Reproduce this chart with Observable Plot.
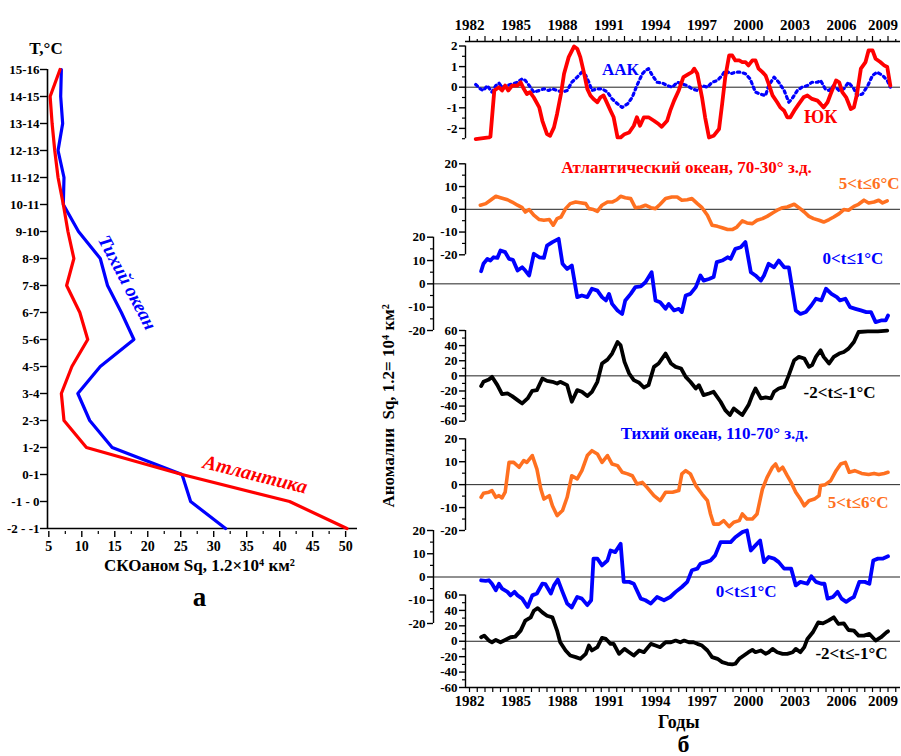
<!DOCTYPE html>
<html><head><meta charset="utf-8">
<script src="https://cdn.jsdelivr.net/npm/d3@7"></script>
<script src="https://cdn.jsdelivr.net/npm/@observablehq/plot@0.6"></script>
<style>
html,body{margin:0;padding:0;background:#fff;}
#root{position:relative;width:901px;height:756px;overflow:hidden;background:#fff;}
</style></head><body><div id="root"></div>
<script>
// ---------- Panel (a): standard deviation by temperature bins ----------
const tempBins = ["15-16","14-15","13-14","12-13","11-12","10-11","9-10","8-9","7-8","6-7","5-6","4-5","3-4","2-3","1-2","0-1","-1 - 0","-2 - -1"];
const atlanticSd = [6.7,5.2,5.5,5.9,6.4,7.2,7.9,8.8,7.7,9.7,10.9,8.5,6.9,7.3,10.7,25.2,41.5,50.2];
const pacificSd  = [6.9,6.8,7.1,6.4,7.3,7.2,9.5,12.8,13.9,16.0,17.9,12.8,9.4,11.2,14.6,25.2,26.5,31.8];
const sdTicks = [5,10,15,20,25,30,35,40,45,50];

// ---------- Panel (б): time series [year, value] ----------
const yearLabels = [1982,1985,1988,1991,1994,1997,2000,2003,2006,2009];

const yk = [[1982.4,-2.52],[1983.25,-2.44],[1983.35,-2.4],[1983.6,-0.16],[1983.9,0],[1984.1,-0.16],[1984.3,0.08],[1984.5,-0.16],[1984.75,0.08],[1985.1,0.08],[1985.3,0.24],[1985.5,-0.08],[1985.7,-0.33],[1985.9,-0.24],[1986.15,-0.5],[1986.5,-0.98],[1986.7,-1.63],[1987.0,-2.28],[1987.2,-2.36],[1987.45,-1.95],[1987.65,-1.3],[1987.9,-0.33],[1988.1,0.65],[1988.4,1.46],[1988.75,1.98],[1988.95,1.87],[1989.15,1.46],[1989.4,0.65],[1989.6,-0.08],[1989.8,-0.4],[1990.0,-0.57],[1990.25,-0.73],[1990.45,-0.49],[1990.65,-0.4],[1990.9,-0.81],[1991.1,-1.14],[1991.3,-1.46],[1991.55,-2.44],[1991.75,-2.44],[1992.0,-2.28],[1992.3,-2.2],[1992.6,-1.87],[1992.8,-1.46],[1993.0,-1.87],[1993.25,-1.46],[1993.55,-1.46],[1993.9,-1.63],[1994.2,-1.79],[1994.4,-1.92],[1994.75,-1.63],[1994.95,-1.14],[1995.2,-0.65],[1995.5,-0.16],[1995.8,0.49],[1996.15,0.65],[1996.35,0.73],[1996.5,0.9],[1996.7,0.65],[1997.0,-0.49],[1997.2,-1.46],[1997.45,-2.44],[1997.75,-2.36],[1998.1,-2.03],[1998.3,-0.81],[1998.5,0.49],[1998.75,1.54],[1998.95,1.54],[1999.15,1.3],[1999.4,1.3],[1999.6,1.22],[1999.8,1.22],[2000.0,1.06],[2000.25,1.3],[2000.45,1.3],[2000.65,0.9],[2000.9,0.73],[2001.1,0.57],[2001.3,0.16],[2001.55,-0.4],[2001.85,-0.73],[2002.05,-0.98],[2002.3,-1.14],[2002.5,-1.46],[2002.7,-1.46],[2002.95,-1.14],[2003.25,-0.81],[2003.55,-0.49],[2003.8,-0.4],[2004.1,-0.57],[2004.45,-0.65],[2004.65,-0.81],[2004.85,-0.98],[2005.1,-0.73],[2005.3,-0.33],[2005.65,0.33],[2005.85,0.24],[2006.05,-0.24],[2006.3,-0.49],[2006.6,-1.06],[2006.8,-0.98],[2007.0,-0.33],[2007.25,0.9],[2007.55,1.22],[2007.75,1.79],[2008.0,1.79],[2008.2,1.38],[2008.5,1.22],[2008.75,1.06],[2008.95,0.98],[2009.15,0.08]];

const aak = [[1982.4,0.13],[1982.7,-0.08],[1982.9,-0.16],[1983.15,0.08],[1983.45,-0.24],[1983.7,0.08],[1983.9,0.2],[1984.1,0],[1984.45,0.08],[1984.75,0.16],[1985.1,0.24],[1985.4,0.41],[1985.6,0.33],[1985.85,0.08],[1986.15,-0.24],[1986.5,-0.16],[1986.8,-0.08],[1987.1,-0.16],[1987.35,-0.08],[1987.65,-0.16],[1988.0,-0.24],[1988.3,-0.16],[1988.6,0.24],[1988.95,0.49],[1989.25,0.73],[1989.5,0.57],[1989.7,0.24],[1989.9,-0.16],[1990.25,-0.08],[1990.55,-0.08],[1990.9,-0.24],[1991.2,-0.57],[1991.55,-0.81],[1991.85,-0.98],[1992.2,-0.81],[1992.5,-0.49],[1992.8,0.08],[1993.15,0.65],[1993.35,0.81],[1993.55,0.9],[1993.8,0.57],[1994.1,0.24],[1994.45,0.2],[1994.75,0.08],[1995.1,0],[1995.4,0.24],[1995.7,0.16],[1996.05,0.08],[1996.35,-0.08],[1996.7,-0.16],[1997.0,0.08],[1997.35,0],[1997.65,0.24],[1998.0,0.33],[1998.3,0.57],[1998.5,0.81],[1998.85,0.65],[1999.15,0.73],[1999.5,0.73],[1999.8,0.65],[2000.1,0.41],[2000.45,-0.24],[2000.75,-0.33],[2001.1,-0.41],[2001.3,0.08],[2001.65,0.49],[2001.95,0.24],[2002.3,-0.16],[2002.6,-0.73],[2002.8,-0.57],[2003.15,-0.16],[2003.45,0],[2003.8,0.08],[2004.1,0.24],[2004.45,0.24],[2004.65,0.33],[2004.95,-0.08],[2005.2,-0.16],[2005.5,0.08],[2005.85,-0.16],[2006.15,-0.08],[2006.45,0.24],[2006.8,-0.08],[2007.0,-0.41],[2007.35,-0.33],[2007.7,0.08],[2008.0,0.57],[2008.3,0.73],[2008.65,0.57],[2008.95,0.33],[2009.15,0]];

const atl56 = [[1982.7,1.8],[1983.05,2.5],[1983.35,4.0],[1983.7,5.7],[1984.0,5.1],[1984.45,4.2],[1984.75,3.2],[1985.1,1.8],[1985.4,0.7],[1985.6,-1.2],[1985.85,-0.1],[1986.15,-2.6],[1986.5,-4.5],[1986.8,-4.8],[1987.15,-4.5],[1987.4,-7.0],[1987.65,-4.1],[1987.9,-3.4],[1988.2,0.3],[1988.5,2.5],[1988.85,3.2],[1989.15,2.9],[1989.5,2.5],[1989.7,0.3],[1990.0,-0.1],[1990.25,-0.9],[1990.55,1.8],[1990.9,3.2],[1991.2,3.2],[1991.5,4.2],[1991.75,5.7],[1992.05,5.1],[1992.4,4.7],[1992.7,0.7],[1993.05,1.0],[1993.35,1.8],[1993.7,0.7],[1994.0,0.3],[1994.3,2.2],[1994.65,4.7],[1995.05,5.4],[1995.4,5.4],[1995.7,4.0],[1996.05,4.2],[1996.35,4.7],[1996.7,2.5],[1997.0,0.7],[1997.35,-2.6],[1997.65,-7.0],[1998.0,-7.5],[1998.3,-8.1],[1998.65,-8.9],[1998.95,-8.9],[1999.25,-7.8],[1999.6,-5.1],[1999.9,-6.0],[2000.25,-6.3],[2000.55,-4.8],[2000.9,-4.1],[2001.2,-3.1],[2001.55,-1.6],[2001.85,-0.4],[2002.2,0.7],[2002.5,1.0],[2002.95,2.2],[2003.25,0.7],[2003.6,-1.2],[2003.9,-3.1],[2004.2,-4.1],[2004.55,-4.8],[2004.85,-5.6],[2005.2,-4.5],[2005.5,-3.4],[2005.85,-1.9],[2006.15,-0.1],[2006.45,-0.4],[2006.8,1.3],[2007.1,2.2],[2007.45,4.0],[2007.75,2.8],[2008.1,3.2],[2008.4,4.0],[2008.65,2.8],[2008.95,3.7]];

const atl01 = [[1982.75,5.4],[1982.9,8.6],[1983.15,10.7],[1983.35,10.0],[1983.55,11.4],[1983.8,11.1],[1984.0,14.3],[1984.3,13.6],[1984.55,10.7],[1984.8,10.3],[1985.1,5.7],[1985.4,7.1],[1985.6,5.7],[1985.85,3.6],[1986.15,12.9],[1986.5,11.4],[1986.8,11.1],[1987.0,16.4],[1987.35,17.9],[1987.75,19.3],[1988.0,8.6],[1988.3,6.4],[1988.6,7.9],[1988.95,-5.7],[1989.25,-5.0],[1989.6,-5.7],[1989.9,-2.1],[1990.25,-2.9],[1990.55,-5.7],[1990.8,-7.1],[1991.0,-4.3],[1991.2,-8.6],[1991.55,-11.4],[1991.85,-12.9],[1992.05,-7.1],[1992.4,-4.3],[1992.7,-1.4],[1993.05,-1.1],[1993.35,0.7],[1993.75,5.0],[1994.0,-7.1],[1994.3,-7.9],[1994.65,-10.7],[1994.85,-8.6],[1995.2,-11.4],[1995.5,-10.7],[1995.7,-12.1],[1995.95,-5.0],[1996.25,-4.3],[1996.6,-1.4],[1996.9,3.6],[1997.1,1.4],[1997.45,2.1],[1997.75,2.9],[1997.95,9.3],[1998.3,10.0],[1998.65,11.4],[1998.85,10.7],[1999.15,15.0],[1999.5,15.7],[1999.8,17.9],[2000.15,5.0],[2000.45,3.6],[2000.8,1.4],[2001.0,3.6],[2001.3,8.6],[2001.65,7.1],[2001.95,10.0],[2002.3,7.1],[2002.6,7.1],[2003.05,-11.4],[2003.35,-12.9],[2003.7,-12.1],[2004.05,-9.3],[2004.35,-6.4],[2004.7,-7.1],[2005.0,-2.1],[2005.35,-4.3],[2005.7,-5.7],[2005.9,-7.1],[2006.25,-6.4],[2006.55,-10.0],[2006.9,-10.7],[2007.25,-11.4],[2007.6,-12.1],[2007.9,-12.1],[2008.2,-16.4],[2008.55,-15.7],[2008.85,-15.7],[2009.0,-13.6]];

const atlM21 = [[1982.75,-13.6],[1982.9,-7.9],[1983.25,-4.8],[1983.45,-1.3],[1983.8,-12.3],[1984.1,-24.2],[1984.45,-23.3],[1984.75,-26.8],[1985.1,-32.1],[1985.4,-36.5],[1985.75,-29.9],[1986.05,-19.8],[1986.35,-18.9],[1986.7,-3.5],[1987.0,-6.6],[1987.35,-7.9],[1987.65,-10.1],[1987.85,-7.9],[1988.3,-12.3],[1988.6,-34.3],[1988.95,-18.9],[1989.25,-21.1],[1989.6,-26.8],[1989.9,-21.1],[1990.25,-7.9],[1990.55,16.3],[1990.9,21.5],[1991.2,29.5],[1991.55,44.8],[1991.75,40.4],[1992.0,18.5],[1992.3,3.1],[1992.6,-5.7],[1992.95,-9.2],[1993.25,-15.4],[1993.55,-12.3],[1993.9,11.9],[1994.2,16.3],[1994.65,29.5],[1995.0,16.3],[1995.3,11.9],[1995.65,9.7],[1995.95,-1.3],[1996.25,-7.9],[1996.6,-16.7],[1996.8,-12.3],[1997.1,-25.5],[1997.45,-23.3],[1997.75,-21.1],[1998.2,-34.3],[1998.5,-45.3],[1998.8,-51.9],[1999.05,-43.1],[1999.4,-48.8],[1999.6,-51.9],[2000.0,-38.7],[2000.25,-25.5],[2000.45,-16.7],[2000.8,-29.9],[2001.1,-28.6],[2001.45,-29.9],[2001.65,-21.1],[2001.95,-16.7],[2002.3,-14.5],[2002.6,0.9],[2002.95,20.7],[2003.25,25.1],[2003.6,22.9],[2003.9,11.9],[2004.1,14.1],[2004.35,25.1],[2004.65,33.8],[2004.85,25.1],[2005.2,16.3],[2005.5,25.1],[2005.85,29.5],[2006.15,31.6],[2006.45,36.0],[2006.8,44.8],[2007.1,58.0],[2007.7,58.9],[2008.35,58.9],[2008.95,59.8]];

const pac56 = [[1982.75,-5.5],[1982.9,-3.8],[1983.25,-3.3],[1983.45,-2.6],[1983.7,-5.5],[1983.9,-4.8],[1984.1,-5.8],[1984.3,-3.3],[1984.55,9.7],[1984.85,9.7],[1985.2,7.6],[1985.5,10.5],[1985.7,9.7],[1986.05,12.7],[1986.35,6.8],[1986.6,-1.9],[1986.8,-6.3],[1987.15,-4.8],[1987.35,-9.2],[1987.65,-13.5],[1988.0,-11.3],[1988.3,-5.5],[1988.6,3.9],[1988.95,2.5],[1989.25,6.1],[1989.6,12.7],[1989.9,14.8],[1990.25,13.4],[1990.55,9.7],[1990.9,12.7],[1991.2,9.0],[1991.55,8.3],[1991.85,5.4],[1992.2,4.7],[1992.5,3.9],[1992.8,0.3],[1993.15,1.0],[1993.45,-1.2],[1993.9,-4.8],[1994.3,-7.0],[1994.65,-3.3],[1995.1,-3.3],[1995.5,-2.6],[1995.7,4.7],[1995.95,6.1],[1996.25,4.7],[1996.6,-0.4],[1997.0,-4.1],[1997.35,-7.0],[1997.55,-12.8],[1997.75,-17.2],[1998.1,-17.2],[1998.4,-15.7],[1998.75,-18.3],[1999.05,-16.4],[1999.4,-15.7],[1999.6,-12.8],[1999.9,-15.0],[2000.25,-15.0],[2000.55,-12.8],[2000.9,-1.9],[2001.2,3.2],[2001.55,7.6],[2001.75,9.0],[2001.95,6.1],[2002.2,7.6],[2002.5,3.9],[2002.75,1.0],[2003.05,-3.3],[2003.35,-6.3],[2003.6,-9.2],[2003.9,-7.0],[2004.25,-6.3],[2004.55,-4.8],[2004.65,-0.4],[2004.95,0],[2005.3,1.7],[2005.65,6.1],[2005.95,9.0],[2006.25,9.7],[2006.5,5.4],[2006.85,6.1],[2007.3,4.9],[2007.75,4.4],[2008.1,4.9],[2008.4,4.4],[2008.75,4.9],[2009.0,5.4]];

const pac01 = [[1982.75,-1.4],[1983.05,-1.7],[1983.25,-1.4],[1983.45,-2.9],[1983.7,-5.7],[1983.9,-2.9],[1984.1,-5.0],[1984.45,-6.4],[1984.65,-7.9],[1984.9,-6.4],[1985.1,-7.9],[1985.4,-9.3],[1985.75,-12.9],[1986.05,-7.9],[1986.35,-7.1],[1986.7,-2.9],[1986.9,-3.1],[1987.25,-7.1],[1987.45,-3.6],[1987.7,-1.1],[1988.0,-6.4],[1988.3,-11.4],[1988.6,-13.1],[1988.95,-8.6],[1989.25,-9.3],[1989.6,-12.1],[1989.85,-10.0],[1990.0,7.9],[1990.25,7.9],[1990.55,5.0],[1990.9,7.1],[1991.1,11.4],[1991.4,10.7],[1991.75,14.3],[1991.95,-2.1],[1992.3,-2.1],[1992.6,-2.9],[1993.05,-9.3],[1993.35,-10.0],[1993.7,-11.4],[1994.1,-8.6],[1994.55,-10.0],[1994.95,-8.6],[1995.3,-6.4],[1995.7,-4.3],[1996.05,-2.1],[1996.35,2.9],[1996.7,3.6],[1996.9,5.7],[1997.25,6.4],[1997.55,7.1],[1997.85,9.3],[1998.2,15.0],[1998.5,15.0],[1998.85,15.0],[1999.15,17.1],[1999.6,19.3],[1999.9,20.0],[2000.15,11.4],[2000.45,13.6],[2000.75,15.7],[2001.0,6.4],[2001.3,8.6],[2001.65,7.9],[2001.95,6.4],[2002.3,3.6],[2002.75,3.6],[2003.05,-3.6],[2003.35,-2.1],[2003.8,-2.9],[2004.05,0.3],[2004.35,-2.1],[2004.7,-2.9],[2004.9,-2.9],[2005.1,-9.3],[2005.45,-8.6],[2005.75,-6.4],[2006.0,-9.3],[2006.3,-10.7],[2006.6,-9.3],[2006.8,-8.6],[2007.15,-2.1],[2007.5,-2.1],[2007.8,-2.9],[2008.05,7.1],[2008.35,7.9],[2008.65,7.9],[2009.0,8.9]];

const pacM21 = [[1982.75,5.2],[1982.95,7.3],[1983.25,0.9],[1983.45,-1.3],[1983.7,1.7],[1984.0,-1.3],[1984.3,1.7],[1984.65,5.2],[1984.95,6.0],[1985.3,13.8],[1985.6,26.7],[1985.95,31.0],[1986.15,39.6],[1986.4,43.0],[1986.7,37.4],[1987.0,33.1],[1987.35,31.0],[1987.65,13.8],[1987.85,-1.3],[1988.2,-12.0],[1988.5,-18.5],[1988.85,-20.6],[1989.15,-22.8],[1989.5,-16.3],[1989.7,-5.6],[1989.9,-12.0],[1990.25,-7.7],[1990.55,4.3],[1990.8,3.0],[1991.1,-3.4],[1991.3,-3.4],[1991.65,-16.3],[1992.0,-9.9],[1992.3,-14.2],[1992.6,-18.5],[1992.95,-12.0],[1993.25,-14.2],[1993.7,-3.4],[1994.0,-5.6],[1994.3,-7.7],[1994.65,-1.3],[1995.0,-1.3],[1995.3,0.9],[1995.6,-1.3],[1995.85,0.9],[1996.15,-1.3],[1996.45,-1.3],[1996.7,-3.4],[1997.0,-5.6],[1997.35,-12.0],[1997.65,-20.6],[1998.0,-22.8],[1998.3,-27.1],[1998.65,-29.2],[1998.95,-30.1],[1999.15,-29.2],[1999.4,-22.8],[1999.7,-18.5],[2000.0,-14.2],[2000.25,-11.2],[2000.45,-14.2],[2000.8,-12.0],[2001.1,-16.3],[2001.3,-14.2],[2001.55,-9.9],[2001.85,-14.2],[2002.2,-16.3],[2002.5,-16.3],[2002.85,-14.2],[2003.05,-9.9],[2003.35,-14.2],[2003.6,-7.7],[2003.8,3.0],[2004.15,11.6],[2004.5,24.5],[2004.8,23.2],[2005.15,26.7],[2005.5,31.0],[2005.8,22.4],[2006.15,23.2],[2006.45,14.6],[2006.8,13.8],[2007.1,7.3],[2007.45,7.3],[2007.8,9.5],[2008.2,0.9],[2008.55,5.2],[2008.9,11.6],[2009.0,12.9]];

// ---------- rendering ----------
const RED = "#ff0000", BLUE = "#0000ff", ORANGE = "#ff7020", BLACK = "#000000";
const FONT = "'Liberation Serif','Times New Roman',serif";
const root = document.getElementById("root");
const svgStyle = `background:transparent;position:absolute;left:0;top:0;overflow:visible;max-width:none;font-family:${FONT};font-weight:bold;font-size:13px;`;

// shared time axis: page px 465 .. 900
const X0 = 1981.742, X1 = 2009.806;
const PXY = 435 / (X1 - X0);
const yearsAll = d3.range(1982, 2010);
const halfYears = d3.range(1982.5, 2010, 1);
const lastYear = yearLabels[yearLabels.length - 1];
const fmtYear = d => ((d - 1982) % 3 === 0 && d !== lastYear ? String(d) : "");

function txt(s, x, y, color, size, anchor = "middle", extra = {}) {
  return Plot.text([s], {x: () => x, y: () => y, text: d => d, fill: color, fontSize: size, textAnchor: anchor, fontWeight: "bold", ...extra});
}

function rightPanel({yDomain, yRange, axisPx = 465, majors, minors, series, texts = [], extra = [], marginTop}) {
  const [r0, r1] = yRange;
  const axisVal = X0 + (axisPx - 465) / PXY;
  const svg = Plot.plot({
    width: 901, height: 756,
    marginLeft: axisPx, marginRight: 1,
    marginTop: marginTop ?? r1, marginBottom: 756 - r0,
    x: {domain: [X0, X1], range: [465, 900], axis: null},
    y: {domain: yDomain, range: [r0, r1], axis: null},
    style: svgStyle,
    marks: [
      Plot.ruleY([0], {stroke: "#222", strokeWidth: 1}),
      Plot.ruleX([axisVal], {y1: yDomain[0], y2: yDomain[1], stroke: BLACK, strokeWidth: 1.4}),
      Plot.axisY({ticks: majors, tickSize: 6, tickPadding: 2, tickFormat: d => String(d), label: null, fontSize: 13, strokeWidth: 1.4}),
      Plot.axisY({ticks: minors, tickSize: 3, tickFormat: () => "", label: null, strokeWidth: 1.2}),
      ...series,
      ...texts,
      ...extra
    ]
  });
  root.append(svg);
}

const thick = (data, color, w = 3.6) => Plot.line(data, {x: d => d[0], y: d => d[1], stroke: color, strokeWidth: w, strokeLinejoin: "round", strokeLinecap: "round"});

// P1: indices
rightPanel({
  yDomain: [-2.5, 2], yRange: [138.2, 45.5], marginTop: 41,
  majors: [-2, -1, 0, 1, 2], minors: [-2.5, -1.5, -0.5, 0.5, 1.5],
  series: [
    Plot.line(aak, {x: d => d[0], y: d => d[1], stroke: BLUE, strokeWidth: 3.2, strokeDasharray: "2.4,3.6"}),
    thick(yk, RED, 3.8)
  ],
  texts: [txt("ААК", 1991.74, 0.86, BLUE, 17), txt("ЮК", 2004.65, -1.47, RED, 18)],
  extra: [
    Plot.ruleY([2 + 4.5 / 20.6], {x1: X0, x2: X1, stroke: BLACK, strokeWidth: 1.3}),
    Plot.axisX({anchor: "top", ticks: yearsAll, tickSize: 6, tickPadding: 6, tickFormat: fmtYear, label: null, fontSize: 15, strokeWidth: 1.2}),
    Plot.axisX({anchor: "top", ticks: halfYears, tickSize: 3, tickFormat: () => "", label: null, strokeWidth: 1.2}),
    Plot.text([lastYear], {x: d => d, frameAnchor: "top", dy: -12, dx: -5, lineAnchor: "bottom", text: d => String(d), fontSize: 15, fontWeight: "bold"})
  ]
});

// P2: Atlantic 5<t<=6
rightPanel({
  yDomain: [-20, 20], yRange: [254.3, 163.3],
  majors: [-20, -10, 0, 10, 20], minors: [-15, -5, 5, 15],
  series: [thick(atl56, ORANGE)],
  texts: [txt("Атлантический океан, 70-30° з.д.", 1996.0, 18.5, RED, 17), txt("5<t≤6°C", 2009.74, 11.3, ORANGE, 17, "end")]
});

// P3: Atlantic 0<t<=1
rightPanel({
  yDomain: [-20, 20], yRange: [330, 236.7], axisPx: 433,
  majors: [-20, -10, 0, 10, 20], minors: [-15, -5, 5, 15],
  series: [thick(atl01, BLUE, 3.8)],
  texts: [txt("0<t≤1°C", 2008.7, 10.7, BLUE, 17, "end")]
});

// P4: Atlantic -2<t<=-1
rightPanel({
  yDomain: [-60, 60], yRange: [420.7, 330],
  majors: [-60, -40, -20, 0, 20, 40, 60], minors: [-50, -30, -10, 10, 30, 50],
  series: [thick(atlM21, BLACK, 3.8)],
  texts: [
    txt("-2<t≤-1°C", 2008.2, -22.4, BLACK, 17, "end"),
    Plot.text(["Аномалии  Sq, 1.2= 10⁴ км²"], {frameAnchor: "left", dx: -77, dy: 30, rotate: -90, textAnchor: "middle", fontSize: 17, fontWeight: "bold", fill: BLACK, text: d => d})
  ]
});

// P5: Pacific 5<t<=6
rightPanel({
  yDomain: [-20, 20], yRange: [530, 438.3],
  majors: [-20, -10, 0, 10, 20], minors: [-15, -5, 5, 15],
  series: [thick(pac56, ORANGE)],
  texts: [txt("Тихий океан, 110-70° з.д.", 1997.8, 22.4, BLUE, 17), txt("5<t≤6°C", 2009.03, -7.7, ORANGE, 17, "end")]
});

// P6: Pacific 0<t<=1
rightPanel({
  yDomain: [-20, 20], yRange: [623, 530], axisPx: 433,
  majors: [-20, -10, 0, 10, 20], minors: [-15, -5, 5, 15],
  series: [thick(pac01, BLUE, 3.8)],
  texts: [txt("0<t≤1°C", 1999.85, -6.4, BLUE, 17)]
});

// P7: Pacific -2<t<=-1 with bottom year axis
rightPanel({
  yDomain: [-60, 60], yRange: [687, 594.5],
  majors: [-60, -40, -20, 0, 20, 40, 60], minors: [-50, -30, -10, 10, 30, 50],
  series: [thick(pacM21, BLACK, 3.8)],
  texts: [
    txt("-2<t≤-1°C", 2008.97, -16.1, BLACK, 17, "end"),
    txt("Годы", 1995.5, -60, BLACK, 18, "middle", {dy: 35}),
    txt("б", 1995.8, -60, BLACK, 24, "middle", {dy: 57})
  ],
  extra: [
    Plot.ruleY([-60], {stroke: BLACK, strokeWidth: 1.4}),
    Plot.axisX({anchor: "bottom", ticks: yearsAll, tickSize: 5, tickPadding: 3, tickFormat: fmtYear, label: null, fontSize: 15, strokeWidth: 1.2}),
    Plot.axisX({anchor: "bottom", ticks: halfYears, tickSize: 5, tickFormat: () => "", label: null, strokeWidth: 1.2}),
    Plot.text([lastYear], {x: d => d, frameAnchor: "bottom", dy: 8, dx: -5, lineAnchor: "top", text: d => String(d), fontSize: 15, fontWeight: "bold"})
  ]
});

// Panel (a)
const left = Plot.plot({
  width: 901, height: 756,
  marginLeft: 47, marginRight: 901 - 357, marginTop: 65, marginBottom: 756 - 531,
  x: {domain: [4.8, 51.8], range: [47, 357], axis: null},
  y: {type: "point", domain: tempBins, range: [65, 531], padding: 0, axis: null},
  style: svgStyle,
  marks: [
    Plot.ruleX([4.8], {y1: () => tempBins[0], y2: () => tempBins[tempBins.length - 1], stroke: BLACK, strokeWidth: 1.6}),
    Plot.ruleY([tempBins[tempBins.length - 1]], {x1: 4.8, x2: 51.8, stroke: BLACK, strokeWidth: 1.6}),
    Plot.axisY({tickSize: 7, tickPadding: 1, label: null, fontSize: 13, strokeWidth: 1.4}),
    Plot.axisX({ticks: sdTicks, tickSize: 6, tickPadding: 4, tickFormat: d => String(d), label: null, fontSize: 14, strokeWidth: 1.4}),
    Plot.axisX({ticks: sdTicks.map(d => d + 2.5).slice(0, 9), tickSize: 3, tickFormat: () => "", label: null, strokeWidth: 1.2}),
    Plot.line(tempBins, {x: (d, i) => pacificSd[i], y: d => d, stroke: BLUE, strokeWidth: 3.2, strokeLinejoin: "round"}),
    Plot.line(tempBins, {x: (d, i) => atlanticSd[i], y: d => d, stroke: RED, strokeWidth: 3.2, strokeLinejoin: "round"}),
    Plot.text(["Тихий океан"], {x: () => 16.9, y: () => "7-8", dy: -3, rotate: 62, text: d => d, fill: BLUE, fontSize: 19, fontStyle: "italic", fontWeight: "bold"}),
    Plot.text(["Атлантика"], {x: () => 36.3, y: () => "0-1", dy: 0, rotate: 14, text: d => d, fill: RED, fontSize: 20, fontStyle: "italic", fontWeight: "bold"}),
    Plot.text(["T,°C"], {x: () => 4.57, y: () => "15-16", dy: -21, text: d => d, fill: BLACK, fontSize: 17, fontWeight: "bold"}),
    Plot.text(["СКОаном Sq, 1.2×10⁴ км²"], {x: () => 27.84, y: () => "-2 - -1", dy: 37, text: d => d, fill: BLACK, fontSize: 17, fontWeight: "bold"}),
    Plot.text(["а"], {x: () => 27.84, y: () => "-2 - -1", dy: 69, text: d => d, fill: BLACK, fontSize: 27, fontWeight: "bold"})
  ]
});
root.append(left);
</script>
</body></html>
